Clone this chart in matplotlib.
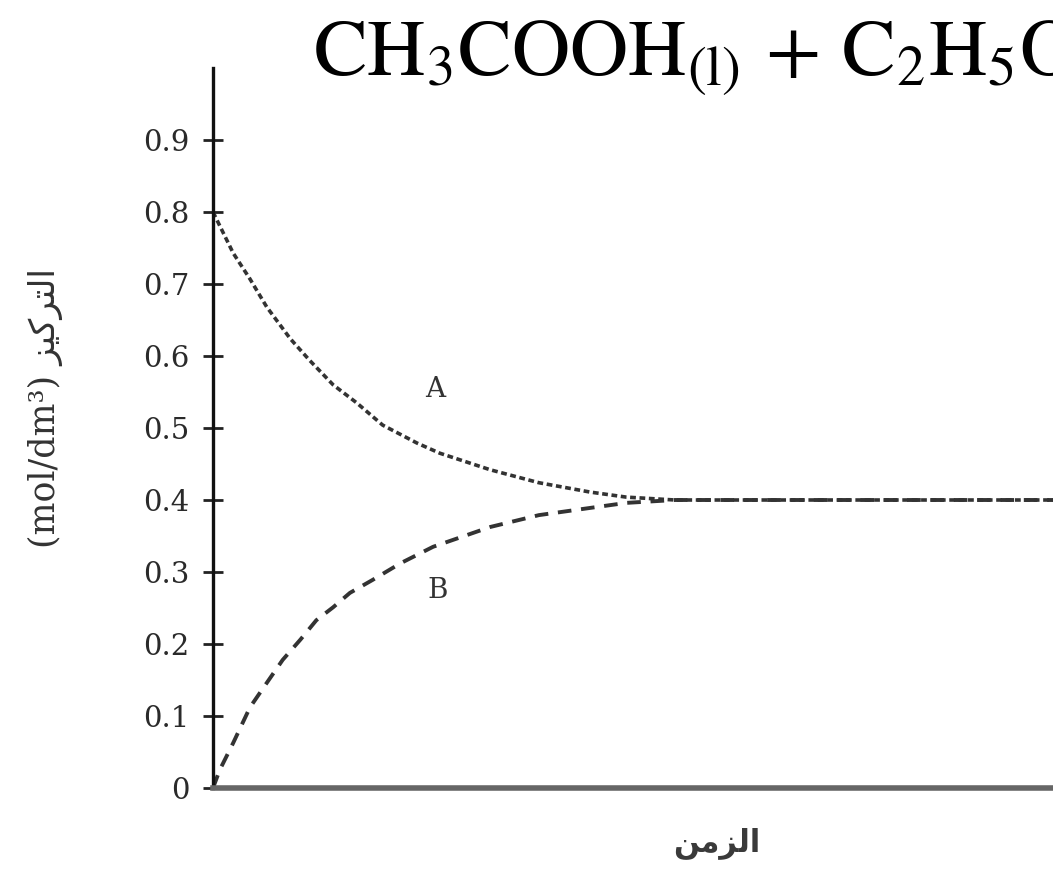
import numpy as np
from matplotlib import pyplot as plt

# concentration (mol/dm3), time in arbitrary units
time_a = [0, 0.24, 0.44, 0.64, 0.92, 1.15, 1.43, 1.71, 2.02, 2.43, 2.70, 3.30, 3.88, 4.49, 4.92, 5.5, 7, 10]
conc_a = [0.80, 0.743, 0.707, 0.668, 0.624, 0.594, 0.560, 0.535, 0.504, 0.479, 0.465, 0.442, 0.424,
          0.411, 0.404, 0.400, 0.400, 0.400]
time_b = [0, 0.08, 0.24, 0.44, 0.64, 0.83, 1.04, 1.23, 1.43, 1.63, 1.90, 2.23, 2.62, 3.30, 3.88, 4.49,
          4.92, 5.5, 7, 10]
conc_b = [0, 0.025, 0.0625, 0.112, 0.146, 0.178, 0.206, 0.233, 0.251, 0.271, 0.289, 0.312, 0.335,
          0.3625, 0.379, 0.389, 0.396, 0.400, 0.400, 0.400]
yticks = [0, 0.1, 0.2, 0.3, 0.4, 0.5, 0.6, 0.7, 0.8, 0.9]
ytick_labels = ["0", "0.1", "0.2", "0.3", "0.4", "0.5", "0.6", "0.7", "0.8", "0.9"]

# Arabic written in presentation forms, visual order (matplotlib has no shaping)
ylabel_ar = "\uFEB0\uFEF4\uFEDB\uFEAE\uFE98\uFEDF\uFE8D"   # التركيز
xlabel_ar = "\uFEE6\uFEE3\uFEB0\uFEDF\uFE8D"               # الزمن

plt.rcParams['mathtext.fontset'] = 'stix'
fig = plt.figure(figsize=(10.53, 8.73), dpi=100)
ax = fig.add_axes([213 / 1053, 85 / 873, 1 - 213 / 1053, 720 / 873])

ax.plot(time_a, conc_a, color='#333333', lw=2.6, dashes=(1.6, 1.0))
ax.plot(time_b, conc_b, color='#333333', lw=2.8, dashes=(3.5, 2.5))

ax.set_xlim(0, 10)
ax.set_ylim(0, 1.0)
ax.set_xticks([])
ax.set_yticks(yticks)
ax.set_yticklabels(ytick_labels, family='DejaVu Serif', fontsize=21, color='#2a2a2a')
ax.tick_params(axis='y', direction='inout', length=14, width=2, pad=10, color='#222222')

ax.spines['top'].set_visible(False)
ax.spines['right'].set_visible(False)
ax.spines['left'].set_linewidth(2.4)
ax.spines['left'].set_color('#111111')
ax.spines['bottom'].set_linewidth(4)
ax.spines['bottom'].set_color('#666666')

ax.text(2.64, 0.553, "A", family='DejaVu Serif', fontsize=20, color='#333333', ha='center', va='center')
ax.text(2.67, 0.275, "B", family='DejaVu Serif', fontsize=20, color='#333333', ha='center', va='center')

fig.text(45 / 1053, 1 - 408 / 873, "(mol/dm\u00b3) " + ylabel_ar, rotation=90,
         family=['DejaVu Serif', 'DejaVu Sans'], fontsize=25, color='#333333', ha='center', va='center')
fig.text(717 / 1053, 1 - 843 / 873, xlabel_ar, family='DejaVu Sans', fontsize=22, weight='bold',
         color='#3a3a3a', ha='center', va='center')

fig.text(313 / 1053, 1 - 58 / 873, r'$\mathrm{CH_3COOH_{(l)}\,+\,C_2H_5OH_{(l)}}$',
         fontsize=58, color='black', ha='left', va='center')

fig.savefig('out.png', dpi=100)
